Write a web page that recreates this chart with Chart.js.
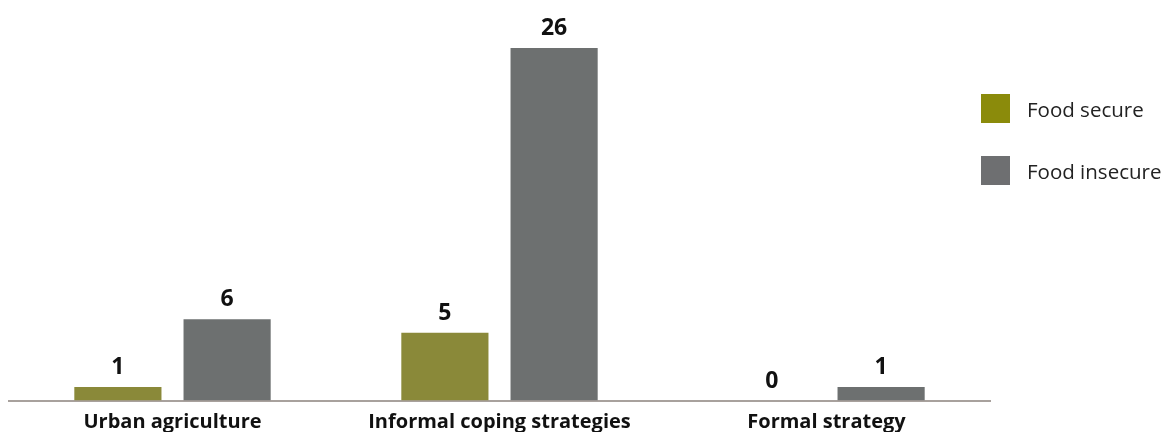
<!DOCTYPE html>
<html>
<head>
<meta charset="utf-8">
<title>Food security strategies</title>
<script src="https://cdn.jsdelivr.net/npm/chart.js@4/dist/chart.umd.min.js"></script>
<style>
    html, body { margin: 0; padding: 0; background: #fff; }
    #wrap { position: relative; width: 1165px; height: 432px; overflow: hidden; }
    #legend { position: absolute; left: 981px; top: 94px; font-family: "Open Sans", Lato, sans-serif; font-size: 20.5px; color: #222; white-space: nowrap; }
    .legend-item { display: flex; align-items: center; height: 29px; margin-bottom: 33px; }
    .legend-box { width: 29px; height: 29px; margin-right: 17px; flex: none; }
</style>
</head>
<body>
<div id="wrap">
    <canvas id="chart" width="1165" height="432"></canvas>
    <div id="legend"></div>
</div>
<script>
const categories = ['Urban agriculture', 'Informal coping strategies', 'Formal strategy'];
const foodSecure = [1, 5, 0];
const foodInsecure = [6, 26, 1];
const seriesNames = ['Food secure', 'Food insecure'];
const barColors = ['#8a8939', '#6d7070'];
const legendColors = ['#8b8b0b', '#6e6f71'];

// Numbers above each bar
const valueLabels = {
    id: 'valueLabels',
    afterDatasetsDraw(chart) {
        const ctx = chart.ctx;
        ctx.save();
        ctx.font = 'bold 23px "Open Sans", Lato, sans-serif';
        ctx.fillStyle = '#111';
        ctx.textAlign = 'center';
        ctx.textBaseline = 'alphabetic';
        chart.data.datasets.forEach((ds, i) => {
            chart.getDatasetMeta(i).data.forEach((bar, j) => {
                ctx.fillText(String(ds.data[j]), bar.x, bar.y - 13);
            });
        });
        ctx.restore();
    }
};

const chart = new Chart(document.getElementById('chart').getContext('2d'), {
    type: 'bar',
    data: {
        labels: categories,
        datasets: [
            { label: seriesNames[0], data: foodSecure, backgroundColor: barColors[0] },
            { label: seriesNames[1], data: foodInsecure, backgroundColor: barColors[1] }
        ]
    },
    options: {
        responsive: false,
        animation: false,
        categoryPercentage: 0.668,
        barPercentage: 0.798,
        layout: { padding: { top: 48, left: 9, right: 175, bottom: -12.5 } },
        plugins: {
            legend: { display: false },
            tooltip: { enabled: false }
        },
        scales: {
            x: {
                grid: { display: false, drawTicks: false },
                border: { display: true, color: '#a8a19d', width: 2 },
                ticks: {
                    padding: 10,
                    color: '#111',
                    font: { family: '"Open Sans", Lato, sans-serif', size: 20, weight: 'bold' }
                }
            },
            y: {
                display: false,
                min: 0,
                max: 26
            }
        }
    },
    plugins: [valueLabels]
});

// Legend on the right
document.getElementById('legend').innerHTML = seriesNames.map((name, i) => `
    <div class="legend-item">
        <span class="legend-box" style="background:${legendColors[i]}"></span>
        <span>${name}</span>
    </div>
`).join('');
</script>
</body>
</html>
